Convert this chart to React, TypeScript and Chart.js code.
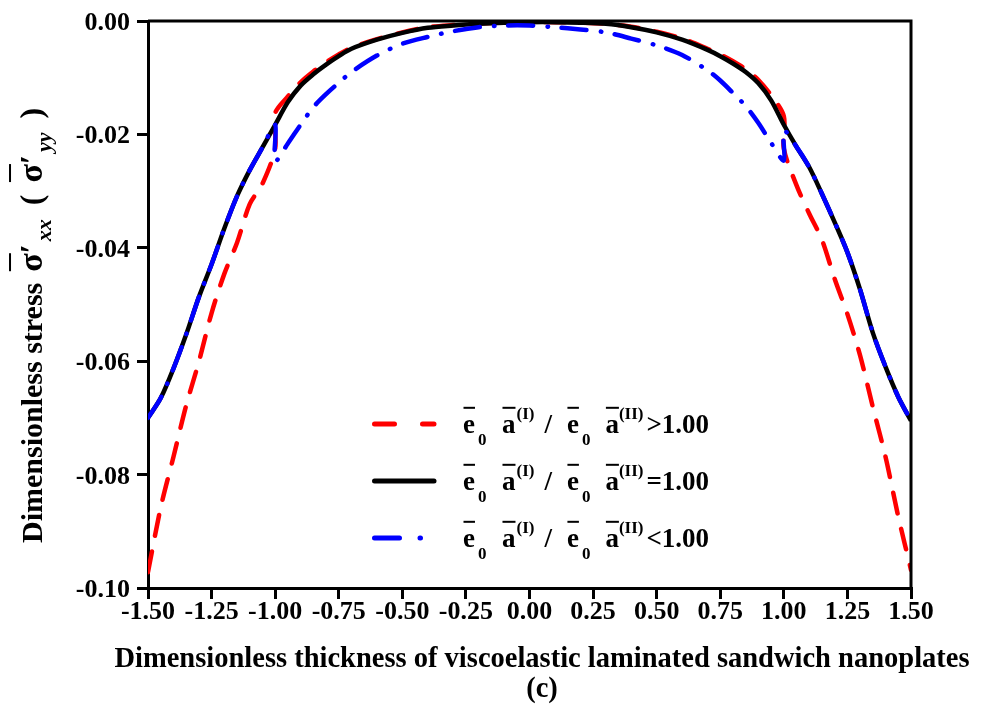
import React, { useEffect, useRef } from "react";
import { Chart, registerables } from "chart.js";

Chart.register(...registerables);

const FONT = '"Liberation Serif", "Times New Roman", serif';

// ---- tick values / labels ----
const xTickValues = [-1.5, -1.25, -1.0, -0.75, -0.5, -0.25, 0, 0.25, 0.5, 0.75, 1.0, 1.25, 1.5];
const xTickLabels = ["-1.50", "-1.25", "-1.00", "-0.75", "-0.50", "-0.25", "0.00", "0.25", "0.50", "0.75", "1.00", "1.25", "1.50"];
const yTickValues = [0, -0.02, -0.04, -0.06, -0.08, -0.1];
const yTickLabels = ["0.00", "-0.02", "-0.04", "-0.06", "-0.08", "-0.10"];

// ---- thickness coordinates (face sheets and core) ----
const xFaceLeft = [-1.5, -1.45, -1.4, -1.35, -1.3, -1.25, -1.2, -1.15, -1.1, -1.05, -1.0];
const xCore = [-1.0, -0.95, -0.9, -0.85, -0.8, -0.75, -0.7, -0.6, -0.5, -0.4, -0.3, -0.2, -0.1, 0, 0.1, 0.2, 0.3, 0.4, 0.5, 0.6, 0.7, 0.75, 0.8, 0.85, 0.9, 0.95, 1.0];
const xFaceRight = [1.0, 1.05, 1.1, 1.15, 1.2, 1.25, 1.3, 1.35, 1.4, 1.45, 1.5];

// ---- ratio = 1.00 (black) ----
const blackFaceLeft = [-0.07, -0.0665, -0.0613, -0.0553, -0.0487, -0.0429, -0.0366, -0.0309, -0.0263, -0.0223, -0.0183];
const blackCore = [-0.0182, -0.0143, -0.0114, -0.0094, -0.0077, -0.0062, -0.0049, -0.0033, -0.0021, -0.0012, -0.0008, -0.0005, -0.0003, -0.0002, -0.0002, -0.0003, -0.0005, -0.0011, -0.002, -0.0033, -0.0051, -0.0062, -0.0075, -0.009, -0.011, -0.014, -0.0183];
const blackFaceRight = [-0.0183, -0.0222, -0.0258, -0.0305, -0.0355, -0.0408, -0.0474, -0.055, -0.061, -0.0663, -0.0705];

// ---- ratio > 1.00 (red) ----
const redFaceLeft = [-0.0972, -0.0858, -0.0769, -0.0678, -0.0601, -0.0515, -0.0446, -0.0391, -0.0323, -0.0287, -0.0225];
const redCore = [-0.0163, -0.0133, -0.0108, -0.0089, -0.0073, -0.0059, -0.0047, -0.0032, -0.002, -0.0011, -0.0007, -0.0004, -0.0003, -0.0002, -0.0002, -0.0003, -0.0005, -0.001, -0.0019, -0.0031, -0.0049, -0.0059, -0.0071, -0.0085, -0.0104, -0.0131, -0.0168];
const redFaceRight = [-0.0225, -0.029, -0.034, -0.0386, -0.0455, -0.0517, -0.059, -0.0681, -0.0769, -0.0874, -0.0968];

// ---- ratio < 1.00 (blue) ----
const blueFaceLeft = [-0.07, -0.0665, -0.0613, -0.0553, -0.0487, -0.0429, -0.0366, -0.0309, -0.0263, -0.0223, -0.0183];
const blueCore = [-0.0247, -0.0216, -0.0183, -0.0152, -0.0129, -0.0109, -0.009, -0.0061, -0.004, -0.0028, -0.0018, -0.0011, -0.0008, -0.0008, -0.0011, -0.0015, -0.002, -0.0031, -0.0043, -0.006, -0.0087, -0.0105, -0.0127, -0.015, -0.018, -0.0215, -0.0246];
const blueFaceRight = [-0.0193, -0.0222, -0.0258, -0.0305, -0.0355, -0.0408, -0.0474, -0.055, -0.061, -0.0663, -0.0705];

const legendRelations = [">1.00", "=1.00", "<1.00"];
const legendColors = ["#ff0000", "#000000", "#0000ff"];
const legendDashes: number[][] = [[20, 28], [], [25, 20.5, 0.5, 40]];

const xTitle = "Dimensionless thickness of viscoelastic laminated sandwich nanoplates";
const subTitle = "(c)";

type Run = { text: string; size: number; gap?: number; dy?: number; italic?: boolean; bar?: boolean; weight?: string };

function drawRuns(ctx: CanvasRenderingContext2D, runs: Run[], x: number, y: number) {
  let cx = x;
  for (const r of runs) {
    cx += r.gap ?? 0;
    ctx.font = `${r.italic ? "italic " : ""}${r.weight ?? "bold"} ${r.size}px ${FONT}`;
    const w = ctx.measureText(r.text).width;
    const by = y + (r.dy ?? 0);
    ctx.fillText(r.text, cx, by);
    if (r.bar) ctx.fillRect(cx + 0.5, by - r.size * 0.97, w - 0.5, 2);
    cx += w;
  }
  return cx - x;
}

function pts(xs: number[], ys: number[]) {
  return xs.map((x, i) => ({ x, y: ys[i] }));
}

const textPlugin = {
  id: "customText",
  afterDraw(chart: any) {
    const ctx: CanvasRenderingContext2D = chart.ctx;
    const { chartArea } = chart;
    const xs = chart.scales.x;
    const ys = chart.scales.y;
    ctx.save();
    ctx.fillStyle = "#000";
    ctx.textBaseline = "alphabetic";

    // frame (top + right)
    ctx.strokeStyle = "#000";
    ctx.lineWidth = 3;
    ctx.beginPath();
    ctx.moveTo(chartArea.left, chartArea.top);
    ctx.lineTo(chartArea.right, chartArea.top);
    ctx.lineTo(chartArea.right, chartArea.bottom);
    ctx.stroke();

    // tick labels
    ctx.font = `bold 26px ${FONT}`;
    ctx.textAlign = "center";
    xTickValues.forEach((v, i) => {
      ctx.fillText(xTickLabels[i], xs.getPixelForValue(v), chartArea.bottom + 31);
    });
    ctx.textAlign = "right";
    yTickValues.forEach((v, i) => {
      ctx.fillText(yTickLabels[i], chartArea.left - 18, ys.getPixelForValue(v) + 9);
    });

    // x title
    ctx.textAlign = "center";
    ctx.font = `bold 28.5px ${FONT}`;
    ctx.fillText(xTitle, 542, 667);
    ctx.fillText(subTitle, 542, 697);

    // y title (rotated)
    ctx.textAlign = "left";
    ctx.save();
    ctx.translate(42, 543);
    ctx.rotate(-Math.PI / 2);
    drawRuns(ctx, [
      { text: "Dimensionless stress", size: 30 },
      { text: "σ", size: 34, gap: 11, bar: true },
      { text: "′", size: 32 },
      { text: "xx", size: 22, italic: true, gap: 3, dy: 9 },
      { text: "(", size: 32, gap: 14 },
      { text: "σ", size: 34, gap: 12, bar: true },
      { text: "′", size: 32 },
      { text: "yy", size: 22, italic: true, gap: 3, dy: 9 },
      { text: ")", size: 32, gap: 14 },
    ], 0, 0);
    ctx.restore();

    // legend
    const L = chartArea.left + 224;
    const base0 = chartArea.top + 412;
    legendRelations.forEach((rel, i) => {
      const base = base0 + i * 57;
      const ly = base - 9;
      ctx.save();
      ctx.strokeStyle = legendColors[i];
      ctx.lineWidth = 5;
      ctx.lineCap = "round";
      ctx.setLineDash(legendDashes[i]);
      ctx.beginPath();
      ctx.moveTo(L + 2.5, ly);
      ctx.lineTo(L + 62, ly);
      ctx.stroke();
      ctx.restore();
      drawRuns(ctx, [
        { text: "e", size: 27, bar: true },
        { text: "0", size: 17, gap: 3, dy: 12 },
        { text: "a", size: 27, gap: 15.5, bar: true },
        { text: "(I)", size: 17, gap: 1, dy: -14 },
        { text: "/", size: 27, gap: 10 },
        { text: "e", size: 27, gap: 15, bar: true },
        { text: "0", size: 17, gap: 3, dy: 12 },
        { text: "a", size: 27, gap: 15, bar: true },
        { text: "(II)", size: 17, gap: 0, dy: -14 },
        { text: rel, size: 27, gap: 3 },
      ], L + 91, base);
    });
    ctx.restore();
  },
};

export default function App() {
  const ref = useRef<HTMLCanvasElement | null>(null);
  useEffect(() => {
    document.body.style.margin = "0";
    const canvas = ref.current!;
    const axisCommon = (isX: boolean) => ({
      type: "linear" as const,
      ticks: { display: false },
      grid: { display: true, drawOnChartArea: false, drawTicks: true, tickLength: 11, color: "#000", lineWidth: 3, tickWidth: 3 },
      border: { display: true, color: "#000", width: 3 },
      afterFit: (s: any) => {
        if (isX) s.height = 120;
        else s.width = 148;
      },
    });
    const chart = new Chart(canvas, {
      type: "line",
      data: {
        datasets: [
          {
            data: [...pts(xFaceLeft, blueFaceLeft), ...pts(xCore, blueCore), ...pts(xFaceRight, blueFaceRight)],
            borderColor: "#0000ff",
            borderWidth: 4.5,
            borderDash: [25, 14, 0.5, 14],
            borderCapStyle: "round",
            order: 1,
          },
          {
            data: [...pts(xFaceLeft, blackFaceLeft), ...pts(xCore.slice(1), blackCore.slice(1)), ...pts(xFaceRight.slice(1), blackFaceRight.slice(1))],
            borderColor: "#000000",
            borderWidth: 4.5,
            order: 2,
          },
          {
            data: [...pts(xFaceLeft, redFaceLeft), ...pts(xCore, redCore), ...pts(xFaceRight, redFaceRight)],
            borderColor: "#ff0000",
            borderWidth: 4.5,
            borderDash: [21, 16],
            borderCapStyle: "round",
            order: 3,
          },
        ],
      },
      options: {
        animation: false,
        responsive: false,
        devicePixelRatio: 1,
        layout: { padding: { top: 21, right: 75, left: 0, bottom: 0 } },
        elements: { point: { radius: 0 }, line: { tension: 0.3, fill: false } },
        plugins: { legend: { display: false }, tooltip: { enabled: false }, title: { display: false } },
        scales: {
          x: {
            ...axisCommon(true),
            min: -1.5,
            max: 1.5,
            afterBuildTicks: (s: any) => {
              s.ticks = xTickValues.map((v) => ({ value: v }));
            },
          },
          y: {
            ...axisCommon(false),
            min: -0.1,
            max: 0,
            afterBuildTicks: (s: any) => {
              s.ticks = yTickValues.map((v) => ({ value: v }));
            },
          },
        },
      } as any,
      plugins: [textPlugin],
    });
    return () => chart.destroy();
  }, []);
  return <canvas ref={ref} width={986} height={708} style={{ display: "block" }} />;
}
